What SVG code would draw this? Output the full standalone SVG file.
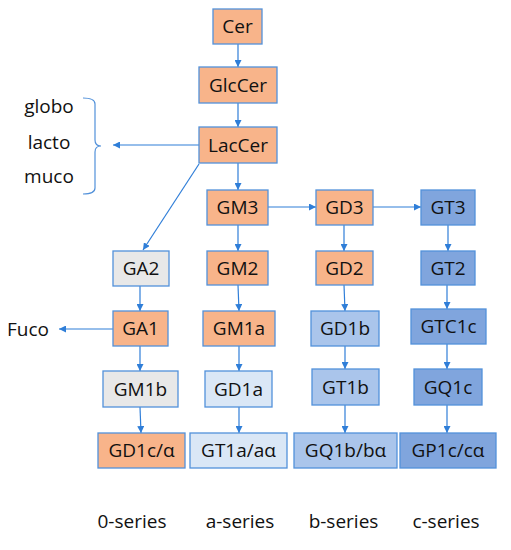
<svg xmlns="http://www.w3.org/2000/svg" width="511" height="550" viewBox="0 0 511 550">
<style>
.n rect{stroke:#5291DA;stroke-width:1.3}
.or{fill:#F8B48A}.gr{fill:#E8E8E8}.lb{fill:#DAE7F6}.mb{fill:#AAC5EB}.db{fill:#80A5DD}
text{font-family:"Open Sans","Liberation Sans",sans-serif;font-size:19px;fill:#111;text-anchor:middle}
.c line,.c path{stroke:#2F7ED8;stroke-width:1.2;fill:none;marker-end:url(#ah)}
</style>
<defs>
<marker id="ah" viewBox="0 0 10 10" refX="10" refY="5" markerWidth="7" markerHeight="7" markerUnits="userSpaceOnUse" orient="auto">
<path d="M0,0L10,5L0,10z" fill="#2F7ED8"/>
</marker>
</defs>
<rect width="511" height="550" fill="#fff"/>
<g class="c">
<line x1="238" y1="44" x2="238" y2="67"/>
<line x1="238" y1="103" x2="238" y2="127"/>
<line x1="238" y1="163" x2="238" y2="190"/>
<line x1="199" y1="145" x2="113" y2="145"/>
<line x1="199" y1="164" x2="143" y2="250"/>
<line x1="268" y1="207" x2="316" y2="207"/>
<line x1="373" y1="207" x2="421" y2="207"/>
<line x1="238" y1="225" x2="238" y2="251"/>
<line x1="238" y1="285" x2="239" y2="311"/>
<line x1="239" y1="346" x2="239" y2="371"/>
<line x1="239" y1="407" x2="239" y2="433"/>
<line x1="344" y1="225" x2="344" y2="251"/>
<line x1="344" y1="285" x2="345" y2="311"/>
<line x1="345" y1="346" x2="345" y2="369"/>
<line x1="345" y1="405" x2="345" y2="433"/>
<line x1="448" y1="225" x2="448" y2="251"/>
<line x1="447" y1="285" x2="447" y2="309"/>
<line x1="447" y1="344" x2="447" y2="369"/>
<line x1="447" y1="405" x2="447" y2="433"/>
<line x1="140" y1="286" x2="140" y2="311"/>
<line x1="140" y1="346" x2="140" y2="371"/>
<line x1="140" y1="407" x2="141" y2="433"/>
<line x1="113" y1="329" x2="59" y2="329"/>
</g>
<path d="M83,98 Q95,98 95,104 L95,140 Q95,146 101,146 Q95,146 95,152 L95,188 Q95,194 83,194" fill="none" stroke="#5291DA" stroke-width="1.2"/>
<text x="49" y="113">globo</text>
<text x="49" y="149">lacto</text>
<text x="49" y="183">muco</text>
<text x="28" y="336">Fuco</text>
<g id="Cer" class="n"><rect class="or" x="213" y="9" width="49" height="35"/><text x="237.5" y="33">Cer</text></g>
<g id="GlcCer" class="n"><rect class="or" x="199" y="67" width="78" height="36"/><text x="238" y="92">GlcCer</text></g>
<g id="LacCer" class="n"><rect class="or" x="199" y="127" width="78" height="36"/><text x="238" y="152">LacCer</text></g>
<g id="GM3" class="n"><rect class="or" x="207" y="190" width="61" height="35"/><text x="237.5" y="214">GM3</text></g>
<g id="GD3" class="n"><rect class="or" x="316" y="190" width="57" height="35"/><text x="344.5" y="214">GD3</text></g>
<g id="GT3" class="n"><rect class="db" x="421" y="190" width="54" height="35"/><text x="448" y="214">GT3</text></g>
<g id="GA2" class="n"><rect class="gr" x="113" y="251" width="56" height="35"/><text x="141" y="275">GA2</text></g>
<g id="GM2" class="n"><rect class="or" x="207" y="251" width="61" height="34"/><text x="237.5" y="275">GM2</text></g>
<g id="GD2" class="n"><rect class="or" x="316" y="251" width="57" height="34"/><text x="344.5" y="275">GD2</text></g>
<g id="GT2" class="n"><rect class="db" x="421" y="251" width="54" height="34"/><text x="448" y="275">GT2</text></g>
<g id="GA1" class="n"><rect class="or" x="113" y="311" width="55" height="35"/><text x="140.5" y="335">GA1</text></g>
<g id="GM1a" class="n"><rect class="or" x="203" y="311" width="72" height="35"/><text x="239" y="335">GM1a</text></g>
<g id="GD1b" class="n"><rect class="mb" x="311" y="311" width="68" height="35"/><text x="345" y="335">GD1b</text></g>
<g id="GTC1c" class="n"><rect class="db" x="411" y="309" width="75" height="35"/><text x="448.5" y="333">GTC1c</text></g>
<g id="GM1b" class="n"><rect class="gr" x="103" y="371" width="75" height="36"/><text x="140.5" y="396">GM1b</text></g>
<g id="GD1a" class="n"><rect class="lb" x="205" y="371" width="67" height="36"/><text x="238.5" y="396">GD1a</text></g>
<g id="GT1b" class="n"><rect class="mb" x="312" y="369" width="67" height="36"/><text x="345.5" y="394">GT1b</text></g>
<g id="GQ1c" class="n"><rect class="db" x="414" y="369" width="68" height="36"/><text x="448" y="394">GQ1c</text></g>
<g id="GD1c" class="n"><rect class="or" x="98" y="433" width="87" height="35"/><text x="141.5" y="457">GD1c/α</text></g>
<g id="GT1a" class="n"><rect class="lb" x="190" y="433" width="97" height="35"/><text x="238.5" y="457">GT1a/aα</text></g>
<g id="GQ1b" class="n"><rect class="mb" x="294" y="433" width="103" height="35"/><text x="345.5" y="457">GQ1b/bα</text></g>
<g id="GP1c" class="n"><rect class="db" x="400" y="433" width="96" height="35"/><text x="448" y="457">GP1c/cα</text></g>
<text x="132" y="528">0-series</text>
<text x="240" y="528">a-series</text>
<text x="343.5" y="528">b-series</text>
<text x="446" y="528">c-series</text>
</svg>
